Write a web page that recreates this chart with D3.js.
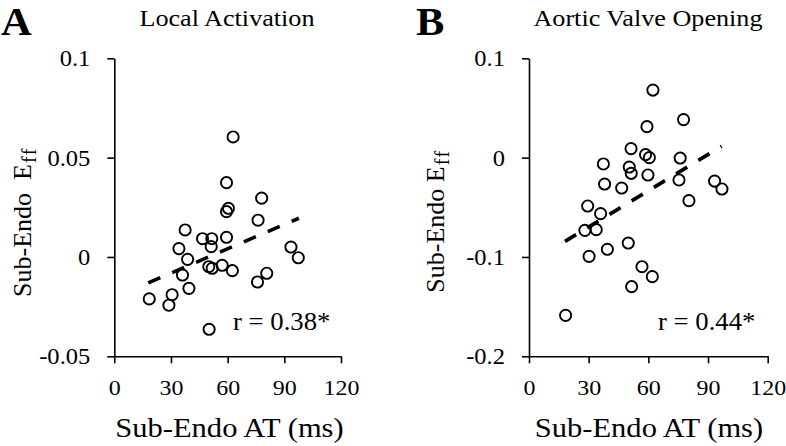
<!DOCTYPE html>
<html>
<head>
<meta charset="utf-8">
<script src="https://cdn.jsdelivr.net/npm/d3@7"></script>
<style>
  html, body { margin: 0; padding: 0; background: #fff; }
  svg { display: block; }
  text { font-family: "Liberation Serif", "Times New Roman", serif; fill: #000; }
</style>
</head>
<body>
<svg id="chart" width="786" height="446"></svg>
<script>
// ---- Panel A: Local Activation ----
const atA = [18.5, 28.9, 30.6, 34.2, 36.1, 37.5, 38.8, 39.5, 46.7, 50.2, 50.0, 51.6, 51.3, 51.8,
             57.1, 59.4, 59.4, 60.4, 59.4, 62.5, 62.9, 75.8, 76.1, 78.0, 80.7, 93.5, 97.4];
const effA = [-0.0211, -0.0243, -0.019, 0.0042, -0.0091, 0.0136, -0.0012, -0.0158, 0.0092, -0.0364,
              -0.0049, 0.0092, 0.0052, -0.0057, -0.0042, 0.0099, 0.0374, 0.0245, 0.0228, -0.0069,
              0.0604, -0.0126, 0.0185, 0.0296, -0.0082, 0.005, -0.0004];
const fitAX = [18, 97.7];
const fitAY = [-0.013, 0.0195];

// ---- Panel B: Aortic Valve Opening ----
const atB = [18.4, 28.1, 29.5, 30.2, 33.8, 36.0, 37.4, 38.0, 39.4, 46.6, 49.9, 50.4, 51.3, 51.4,
             51.6, 56.8, 58.6, 59.3, 59.8, 60.5, 62.0, 62.3, 75.4, 76.0, 77.7, 80.4, 93.3, 97.0];
const effB = [-0.1588, -0.0732, -0.0487, -0.0994, -0.0725, -0.0564, -0.0064, -0.0266, -0.0923, -0.0306,
              -0.086, -0.0095, 0.0091, -0.0158, -0.1299, -0.1098, 0.003, 0.0312, -0.0175, 0.0,
              -0.1198, 0.068, -0.0225, -0.0004, 0.0383, -0.0433, -0.0236, -0.0316];
const fitBX = [18.1, 96.8];
const fitBY = [-0.0843, 0.0114];

const xTicks = [0, 30, 60, 90, 120];
const yTicksA = [-0.05, 0, 0.05, 0.1];
const yTicksB = [-0.2, -0.1, 0, 0.1];
const yTickLabelsA = ["-0.05", "0", "0.05", "0.1"];
const yTickLabelsB = ["-0.2", "-0.1", "0", "0.1"];

const svg = d3.select("#chart");
const STRETCH = 1.09; // the reference's lettering is slightly wide

function stretch(sel) {
  sel.each(function () {
    const len = this.getComputedTextLength();
    d3.select(this).attr("textLength", len * STRETCH).attr("lengthAdjust", "spacingAndGlyphs");
  });
}

function panel(opt) {
  const g = svg.append("g");
  const x = d3.scaleLinear().domain([0, 120]).range(opt.xRange);
  const y = d3.scaleLinear().domain(opt.yDomain).range([356.3, 58.3]);

  // axes
  const xAxis = d3.axisBottom(x).tickValues(xTicks).tickSize(7).tickSizeOuter(0).tickFormat(d3.format("d"));
  const gx = g.append("g").attr("transform", `translate(0,${y(opt.yDomain[0])})`).call(xAxis);
  gx.selectAll("text").attr("dy", null).attr("y", 39).style("font-size", "22px")
    .style("font-family", "Liberation Serif").call(stretch);
  const yAxis = d3.axisLeft(y).tickValues(opt.yTicks).tickSize(7).tickSizeOuter(0)
    .tickFormat((d, i) => opt.yLabels[i]);
  const gy = g.append("g").attr("transform", `translate(${x(0)},0)`).call(yAxis);
  gy.selectAll("text").attr("x", -24).attr("dy", "0.34em").style("font-size", "22.5px")
    .style("font-family", "Liberation Serif").call(stretch);
  [gx, gy].forEach(a => {
    a.select(".domain").attr("stroke", "#000").attr("stroke-width", 1.6);
    a.selectAll(".tick line").attr("stroke", "#000").attr("stroke-width", 1.6);
  });

  // regression line
  const line = d3.line().x(d => x(d[0])).y(d => y(d[1]));
  g.append("path")
    .attr("d", line(opt.fitX.map((v, i) => [v, opt.fitY[i]])))
    .attr("fill", "none").attr("stroke", "#000").attr("stroke-width", 3.6)
    .attr("stroke-dasharray", "13,13");

  // points
  g.selectAll("circle.pt").data(opt.xs.map((v, i) => [v, opt.ys[i]])).enter()
    .append("circle").attr("class", "pt")
    .attr("cx", d => x(d[0])).attr("cy", d => y(d[1])).attr("r", 5.6)
    .attr("fill", "none").attr("stroke", "#000").attr("stroke-width", 1.9);

  // texts
  g.append("text").attr("x", opt.letterX).attr("y", 35).text(opt.letter)
    .style("font-size", "39px").style("font-weight", "bold").call(stretch);
  g.append("text").attr("x", opt.titleX).attr("y", 26).attr("text-anchor", "middle")
    .style("font-size", "24px").text(opt.title).call(stretch);
  g.append("text").attr("x", opt.rX).attr("y", 330).style("font-size", "24.5px").text(opt.rText).call(stretch);
  g.append("text").attr("x", opt.xlabX).attr("y", 437)
    .attr("text-anchor", "middle").style("font-size", "28px").text("Sub-Endo AT (ms)").call(stretch);
  const yl = g.append("text")
    .attr("transform", `translate(${opt.ylabX},${opt.ylabY}) rotate(-90)`)
    .attr("text-anchor", "middle").style("font-size", "26px");
  yl.append("tspan").text(opt.ylabMain);
  yl.append("tspan").attr("dy", 5).attr("dx", 1).style("font-size", "20px")
    .style("letter-spacing", "1.5px").text("ff");
}

panel({
  xRange: [114.3, 341], yDomain: [-0.05, 0.1], yTicks: yTicksA, yLabels: yTickLabelsA,
  xs: atA, ys: effA, fitX: fitAX, fitY: fitAY,
  letter: "A", letterX: 1, title: "Local Activation", titleX: 227,
  rText: "r = 0.38*", rX: 233, xlabX: 229.5, ylabX: 31, ylabY: 222, ylabMain: "Sub-Endo\u00a0\u00a0E"
});
panel({
  xRange: [529, 767.7], yDomain: [-0.2, 0.1], yTicks: yTicksB, yLabels: yTickLabelsB,
  xs: atB, ys: effB, fitX: fitBX, fitY: fitBY,
  letter: "B", letterX: 416, title: "Aortic Valve Opening", titleX: 648,
  rText: "r = 0.44*", rX: 658, xlabX: 649, ylabX: 444, ylabY: 221, ylabMain: "Sub-Endo E"
});
</script>
</body>
</html>
